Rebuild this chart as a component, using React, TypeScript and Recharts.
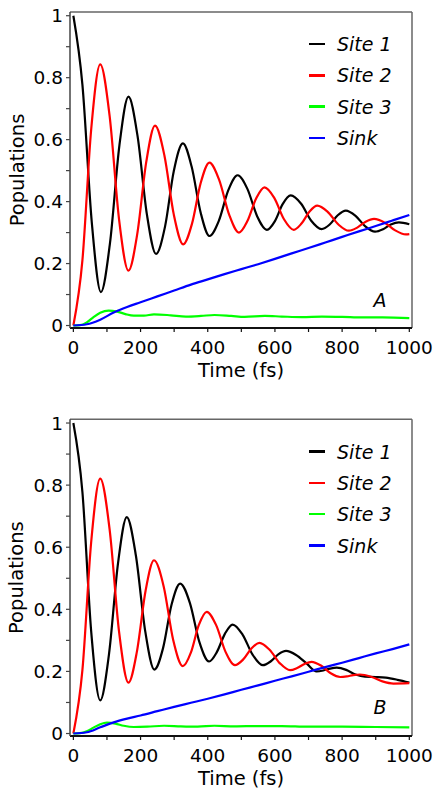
import { LineChart, Line, XAxis, YAxis, ReferenceLine, Legend } from 'recharts'

const FONT = '"DejaVu Sans", sans-serif'

const SERIES_NAMES = ['Site 1', 'Site 2', 'Site 3', 'Sink']
const SERIES_COLORS = ['#000000', '#ff0000', '#00ff00', '#0000ff']

const X_TICKS = [0, 100, 200, 300, 400, 500, 600, 700, 800, 900, 1000]
const Y_TICKS = [0, 0.1, 0.2, 0.3, 0.4, 0.5, 0.6, 0.7, 0.8, 0.9, 1]
const X_DOMAIN = [-10, 1008]
const Y_DOMAIN = [-0.008, 1.012]

// panel A
const A_SITE1_T = [0, 27, 55, 82, 109, 137, 164, 191, 219, 246, 273, 299, 326, 352, 379, 405, 433, 461, 489, 518, 547, 576, 600, 623, 647, 678, 708, 739, 763, 787, 811, 840, 869, 898, 922, 945, 969, 1000]
const A_SITE1_P = [1.0, 0.777, 0.331, 0.108, 0.266, 0.581, 0.739, 0.612, 0.358, 0.231, 0.32, 0.499, 0.588, 0.513, 0.364, 0.289, 0.338, 0.436, 0.485, 0.441, 0.353, 0.309, 0.337, 0.392, 0.42, 0.393, 0.338, 0.311, 0.326, 0.356, 0.371, 0.354, 0.32, 0.303, 0.311, 0.326, 0.333, 0.327]
const A_SITE2_T = [0, 27, 53, 80, 108, 136, 164, 190, 217, 243, 271, 299, 327, 353, 379, 405, 434, 464, 493, 518, 544, 569, 598, 627, 656, 679, 703, 726, 757, 789, 820, 845, 870, 895, 927, 958, 990, 1000]
const A_SITE2_P = [0, 0.211, 0.632, 0.843, 0.676, 0.343, 0.177, 0.294, 0.528, 0.645, 0.549, 0.358, 0.262, 0.328, 0.46, 0.526, 0.47, 0.357, 0.3, 0.337, 0.41, 0.446, 0.412, 0.343, 0.309, 0.329, 0.368, 0.387, 0.367, 0.326, 0.306, 0.316, 0.335, 0.344, 0.332, 0.307, 0.294, 0.295]
const A_SITE3_T = [0, 20, 40, 60, 80, 105, 130, 155, 180, 210, 240, 290, 335, 380, 420, 470, 510, 570, 620, 680, 740, 800, 860, 920, 1000]
const A_SITE3_P = [0, 0.001, 0.01, 0.027, 0.041, 0.048, 0.045, 0.037, 0.032, 0.032, 0.036, 0.033, 0.029, 0.031, 0.034, 0.031, 0.028, 0.031, 0.029, 0.027, 0.029, 0.028, 0.026, 0.026, 0.024]
const A_SINK_T = [0, 40, 80, 120, 160, 200, 250, 300, 350, 400, 450, 500, 550, 600, 650, 700, 750, 800, 850, 900, 950, 1000]
const A_SINK_P = [0, 0.004, 0.019, 0.042, 0.06, 0.075, 0.094, 0.113, 0.132, 0.149, 0.166, 0.182, 0.198, 0.215, 0.233, 0.25, 0.268, 0.286, 0.304, 0.321, 0.339, 0.357]

// panel B
const B_SITE1_T = [0, 27, 53, 80, 106, 133, 159, 186, 214, 241, 267, 292, 318, 347, 375, 404, 427, 451, 474, 504, 534, 564, 587, 610, 633, 663, 694, 724, 744, 764, 784, 812, 840, 868, 900, 930, 965, 1000]
const B_SITE1_P = [1.0, 0.777, 0.33, 0.107, 0.255, 0.549, 0.697, 0.574, 0.329, 0.206, 0.275, 0.414, 0.483, 0.42, 0.295, 0.232, 0.262, 0.321, 0.351, 0.318, 0.253, 0.22, 0.232, 0.255, 0.266, 0.253, 0.226, 0.2, 0.203, 0.209, 0.212, 0.205, 0.19, 0.183, 0.182, 0.18, 0.173, 0.164]
const B_SITE2_T = [0, 27, 53, 80, 108, 136, 164, 189, 215, 240, 269, 297, 326, 350, 373, 397, 425, 453, 481, 505, 530, 554, 584, 615, 645, 666, 688, 709, 737, 766, 794, 814, 833, 853, 886, 920, 953, 1000]
const B_SITE2_P = [0, 0.205, 0.616, 0.821, 0.657, 0.328, 0.164, 0.263, 0.46, 0.558, 0.473, 0.302, 0.217, 0.261, 0.348, 0.392, 0.349, 0.263, 0.22, 0.238, 0.274, 0.292, 0.27, 0.226, 0.204, 0.211, 0.224, 0.231, 0.219, 0.194, 0.182, 0.184, 0.188, 0.19, 0.183, 0.168, 0.161, 0.162]
const B_SITE3_T = [0, 20, 40, 60, 80, 100, 125, 150, 180, 220, 270, 320, 370, 420, 480, 550, 620, 700, 800, 900, 1000]
const B_SITE3_P = [0, 0.001, 0.007, 0.019, 0.03, 0.035, 0.032, 0.025, 0.021, 0.022, 0.025, 0.023, 0.022, 0.025, 0.023, 0.024, 0.024, 0.022, 0.022, 0.021, 0.02]
const B_SINK_T = [0, 40, 80, 120, 160, 200, 250, 300, 350, 400, 450, 500, 550, 600, 650, 700, 750, 800, 850, 900, 950, 1000]
const B_SINK_P = [0, 0.004, 0.02, 0.036, 0.048, 0.058, 0.072, 0.086, 0.099, 0.112, 0.126, 0.141, 0.155, 0.17, 0.184, 0.199, 0.214, 0.228, 0.243, 0.258, 0.272, 0.287]

const pts = (t: number[], p: number[]) => t.map((x, i) => ({ t: x, p: p[i] }))

function XTick({ x, y, payload }: any) {
  const v = payload.value
  if (v % 200 !== 0) return <g />
  return (
    <text x={x} y={y + 11.5} textAnchor="middle" dominantBaseline="central" fontSize={18.5} fontFamily={FONT} fill="#000">
      {v}
    </text>
  )
}

function YTick({ x, y, payload }: any) {
  const v = payload.value
  if (Math.round(v * 10) % 2 !== 0) return <g />
  return (
    <text x={x} y={y} textAnchor="end" dominantBaseline="central" fontSize={18.5} fontFamily={FONT} fill="#000">
      {v === 0 ? '0' : v === 1 ? '1' : String(v)}
    </text>
  )
}

// legend keeps the series order (recharts sorts by name otherwise)
function LegendBox({ payload }: any) {
  const items = [...(payload || [])].sort(
    (a: any, b: any) => SERIES_NAMES.indexOf(a.value) - SERIES_NAMES.indexOf(b.value),
  )
  return (
    <div style={{ fontFamily: FONT, fontStyle: 'italic', fontSize: 19, color: '#000' }}>
      {items.map((e: any) => (
        <div key={e.value} style={{ display: 'flex', alignItems: 'center', height: 31.3 }}>
          <span style={{ display: 'inline-block', width: 16, height: 2.5, background: e.color, marginRight: 12 }} />
          {e.value}
        </div>
      ))}
    </div>
  )
}

interface PanelProps {
  series: { t: number[]; p: number[] }[]
  top: number
  height: number
  marginTop: number
  marginBottom: number
  legendTop: number
  tag: string
  tagY: number
}

function Panel({ series, top, height, marginTop, marginBottom, legendTop, tag, tagY }: PanelProps) {
  const plotBottom = height - marginBottom - 50
  const midY = (marginTop + plotBottom) / 2
  return (
    <div style={{ position: 'absolute', left: 0, top, width: 436, height }}>
      <LineChart width={436} height={height} margin={{ top: marginTop, right: 24, bottom: marginBottom, left: 0 }}>
        <XAxis
          dataKey="t"
          type="number"
          domain={X_DOMAIN}
          ticks={X_TICKS}
          interval={0}
          tick={<XTick />}
          tickSize={4}
          tickMargin={4}
          height={50}
          axisLine={{ stroke: '#111', strokeWidth: 2 }}
          tickLine={{ stroke: '#111', strokeWidth: 1.2 }}
          label={() => (
            <text x={241} y={plotBottom + 42} textAnchor="middle" dominantBaseline="central" fontSize={19.5} fontFamily={FONT} fill="#000">
              Time (fs)
            </text>
          )}
        />
        <YAxis
          type="number"
          domain={Y_DOMAIN}
          ticks={Y_TICKS}
          interval={0}
          tick={<YTick />}
          tickSize={4}
          tickMargin={3}
          width={70}
          axisLine={{ stroke: '#444', strokeWidth: 1.5 }}
          tickLine={{ stroke: '#444', strokeWidth: 1.2 }}
          label={() => (
            <text x={17} y={midY} transform={`rotate(-90 17 ${midY})`} textAnchor="middle" dominantBaseline="central" fontSize={19.5} fontFamily={FONT} fill="#000">
              Populations
            </text>
          )}
        />
        <ReferenceLine y={Y_DOMAIN[1]} stroke="#666" strokeWidth={1.5} />
        <ReferenceLine x={X_DOMAIN[1]} stroke="#666" strokeWidth={1.5} />
        {series.map((s, i) => (
          <Line
            key={SERIES_NAMES[i]}
            data={pts(s.t, s.p)}
            dataKey="p"
            name={SERIES_NAMES[i]}
            type="monotone"
            stroke={SERIES_COLORS[i]}
            strokeWidth={2.2}
            dot={false}
            isAnimationActive={false}
          />
        ))}
        <Legend
          layout="vertical"
          align="center"
          verticalAlign="middle"
          content={<LegendBox />}
          wrapperStyle={{ left: 309, top: legendTop, width: 120, right: 'auto', bottom: 'auto' }}
        />
      </LineChart>
      <span
        style={{
          position: 'absolute',
          left: 380,
          top: tagY - top,
          transform: 'translate(-50%, -50%)',
          fontFamily: FONT,
          fontStyle: 'italic',
          fontSize: 19,
        }}
      >
        {tag}
      </span>
    </div>
  )
}

export default function App() {
  return (
    <div style={{ position: 'fixed', left: 0, top: 0, width: 436, height: 788, background: '#fff' }}>
      <Panel
        series={[
          { t: A_SITE1_T, p: A_SITE1_P },
          { t: A_SITE2_T, p: A_SITE2_P },
          { t: A_SITE3_T, p: A_SITE3_P },
          { t: A_SINK_T, p: A_SINK_P },
        ]}
        top={0}
        height={394}
        marginTop={12}
        marginBottom={16}
        legendTop={28.4}
        tag="A"
        tagY={300}
      />
      <Panel
        series={[
          { t: B_SITE1_T, p: B_SITE1_P },
          { t: B_SITE2_T, p: B_SITE2_P },
          { t: B_SITE3_T, p: B_SITE3_P },
          { t: B_SINK_T, p: B_SINK_P },
        ]}
        top={400}
        height={388}
        marginTop={19.3}
        marginBottom={2}
        legendTop={36}
        tag="B"
        tagY={707}
      />
    </div>
  )
}
